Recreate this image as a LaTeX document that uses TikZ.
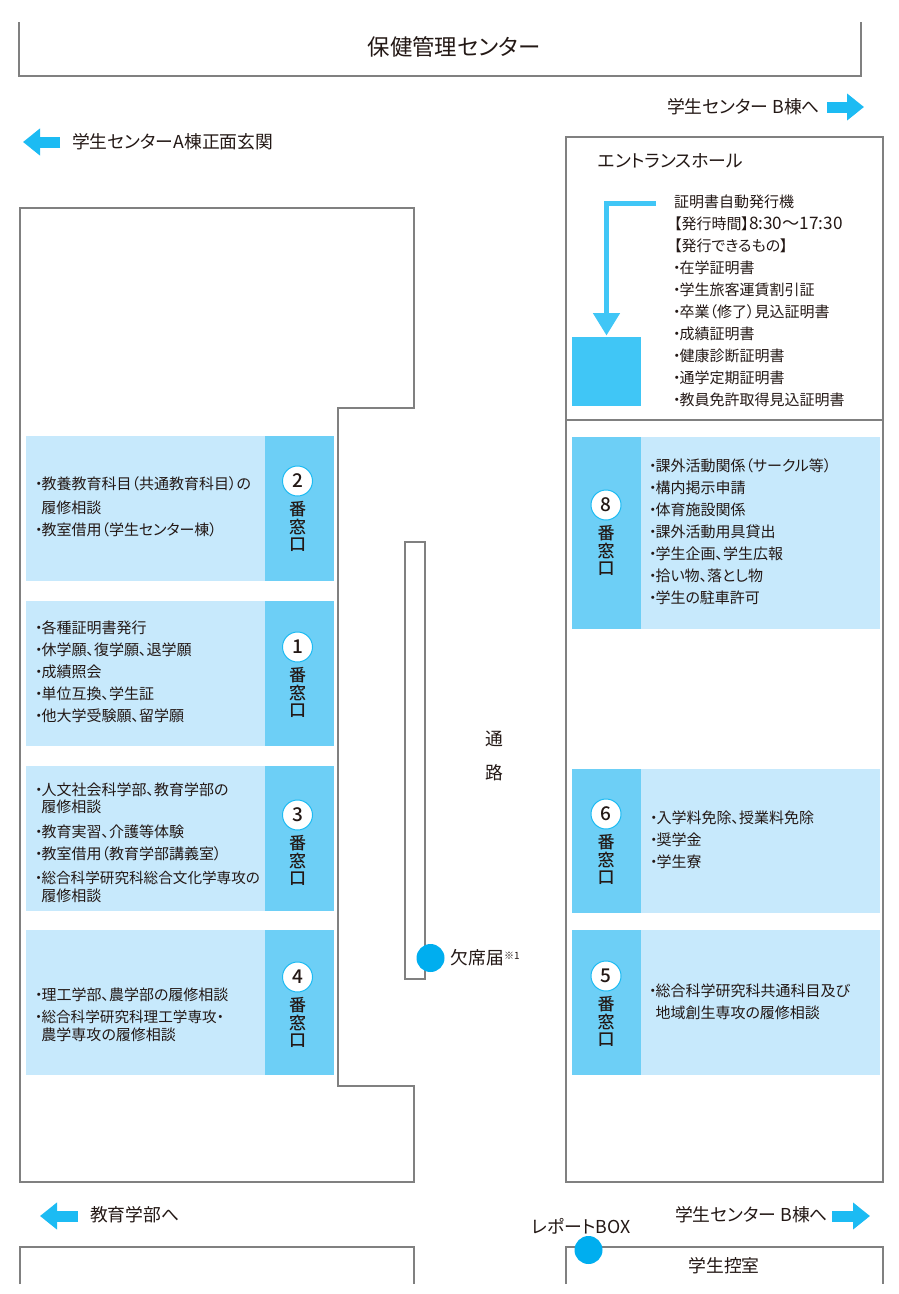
\documentclass[tikz,border=0pt]{standalone}
\usepackage{fontspec}
\setmainfont{Noto Sans CJK JP}[RawFeature={+palt}]
\newfontfamily\medfont{Noto Sans CJK JP Medium}
\usepackage{tikz}
\usetikzlibrary{arrows.meta}
\usetikzlibrary{positioning}
\definecolor{wall}{HTML}{808080}
\definecolor{ink}{HTML}{231815}
\definecolor{palepanel}{HTML}{C7E9FC}
\definecolor{midpanel}{HTML}{6DCFF6}
\definecolor{machineblue}{HTML}{40C6F6}
\definecolor{passblue}{HTML}{1CBBF3}
\definecolor{dotblue}{HTML}{00AEEF}
\newcommand{\bul}{\makebox[5.5pt][c]{・}}
\newcommand{\ind}{\hspace*{5.5pt}}
\newcommand{\tight}{\fontsize{14.6}{22}\selectfont}
\tikzset{
	txt/.style={text=ink,inner sep=0pt,outer sep=0pt,font=\fontsize{15}{22}\selectfont},
	list/.style={txt,anchor=west,align=left},
	big/.style={txt,font=\fontsize{17.8}{22}\selectfont},
	wallline/.style={draw=wall,line width=2pt,line join=miter},
	palebox/.style={fill=palepanel,inner sep=0pt,outer sep=0pt,anchor=north west,minimum height=#1},
	midbox/.style={fill=midpanel,inner sep=0pt,outer sep=0pt,anchor=north west,minimum width=69pt,minimum height=#1},
	badge/.style={circle,draw=passblue,line width=1pt,fill=white,minimum size=30pt,inner sep=0pt,text=ink,font=\fontsize{19}{19}\medfont},
	winlabel/.style={txt,align=center,font=\fontsize{17}{17.5}\medfont},
	passarrow/.style={draw=passblue,line width=11pt,-{Triangle[length=17pt,width=26pt]}},
	dot/.style={circle,fill=dotblue,minimum size=28pt,inner sep=0pt}
}
\begin{document}
\begin{tikzpicture}[x=1pt,y=-1pt]
	\useasboundingbox (0,0) rectangle (899,1294);
	% walls
	\draw[wallline] (19,22) -- (19,76) -- (861,76) -- (861,22);
	\draw[wallline] (20,208) -- (414,208) -- (414,408) -- (338,408) -- (338,1086) -- (414,1086) -- (414,1182) -- (20,1182) -- cycle;
	\draw[wallline] (566,137) rectangle (883,1182);
	\draw[wallline] (566,420) -- (883,420);
	\draw[wallline] (405,542) rectangle (425,979);
	\draw[wallline] (20,1284) -- (20,1247) -- (414,1247) -- (414,1284);
	\draw[wallline] (566,1284) -- (566,1247) -- (883,1247) -- (883,1284);
	% left windows
	\foreach \n/\top/\by in {2/436/481,1/601/647,3/766/815,4/930/977} {
		\node[palebox=145pt,minimum width=239pt] (p\n) at (26,\top) {};
		\node[midbox=145pt] (m\n) at (265,\top) {};
		\node[badge] (w\n) at (297.5,\by) {\n};
		\node[winlabel,below=5pt of w\n] (t\n) {番\\窓\\口};
	}
	% right windows
	\foreach \n/\top/\h/\by in {8/437/192/505,6/769/144/814,5/930/145/976} {
		\node[midbox=\h pt] (m\n) at (572,\top) {};
		\node[palebox=\h pt,minimum width=239pt] (p\n) at (641,\top) {};
		\node[badge] (w\n) at (606,\by) {\n};
		\node[winlabel,below=5pt of w\n] (t\n) {番\\窓\\口};
	}
	% window texts
	\node[list] (s2) at (36,507) {\bul 教養教育科目（共通教育科目）の\\[2pt]\ind 履修相談\\\bul 教室借用（学生センター棟）};
	\node[list] (s1) at (36,672) {\bul 各種証明書発行\\\bul 休学願、復学願、退学願\\\bul 成績照会\\\bul 単位互換、学生証\\\bul 他大学受験願、留学願};
	\node[list] (s3) at (36,843) {\bul 人文社会科学部、教育学部の\\[-5pt]\ind 履修相談\\[3pt]\bul 教育実習、介護等体験\\\bul 教室借用（教育学部講義室）\\[2pt]{\tight\bul 総合科学研究科総合文化学専攻の}\\[-4pt]\ind 履修相談};
	\node[list] (s4) at (36,1015) {\bul 理工学部、農学部の履修相談\\{\tight\bul 総合科学研究科理工学専攻・}\\[-4pt]\ind 農学専攻の履修相談};
	\node[list] (s8) at (650,532) {\bul 課外活動関係（サークル等）\\\bul 構内掲示申請\\\bul 体育施設関係\\\bul 課外活動用具貸出\\\bul 学生企画、学生広報\\\bul 拾い物、落とし物\\\bul 学生の駐車許可};
	\node[list] (s6) at (651,840) {\bul 入学料免除、授業料免除\\\bul 奨学金\\\bul 学生寮};
	\node[list] (s5) at (650,1002) {\bul 総合科学研究科共通科目及び\\\ind 地域創生専攻の履修相談};
	% entrance hall
	\node[txt,font=\fontsize{22.4}{22}\selectfont] (health) at (454,47) {保健管理センター};
	\node[big,anchor=west] (hall) at (598,161) {エントランスホール};
	\node[list] (info) at (674,301) {証明書自動発行機\\【発行時間】{\fontsize{17.2}{22}\selectfont 8:30〜17:30}\\【発行できるもの】\\\bul 在学証明書\\\bul 学生旅客運賃割引証\\\bul 卒業（修了）見込証明書\\\bul 成績証明書\\\bul 健康診断証明書\\\bul 通学定期証明書\\\bul 教員免許取得見込証明書};
	\node[fill=machineblue,minimum size=69pt,inner sep=0pt,outer sep=0pt] (machine) at (606.5,371.5) {};
	\coordinate (mfrom) at (656,203);
	\draw[draw=machineblue,line width=5pt,-{Triangle[length=22.5pt,width=26pt]},shorten >=1.5pt] (mfrom) -| (machine.north);
	% directions
	\node[big,anchor=east] (bnorth) at (820,107) {学生センター B棟へ};
	\coordinate (bn0) at (827,107);
	\coordinate (bn1) at (864,107);
	\draw[passarrow] (bn0) -- (bn1);
	\node[big,anchor=west] (afront) at (72,142) {学生センターA棟正面玄関};
	\coordinate (af0) at (60,142);
	\coordinate (af1) at (23,142);
	\draw[passarrow] (af0) -- (af1);
	\node[big,anchor=west] (edu) at (90,1215) {教育学部へ};
	\coordinate (ed0) at (78,1216);
	\coordinate (ed1) at (40,1216);
	\draw[passarrow] (ed0) -- (ed1);
	\node[big,anchor=east] (bsouth) at (828,1215) {学生センター B棟へ};
	\coordinate (bs0) at (832,1216);
	\coordinate (bs1) at (870,1216);
	\draw[passarrow] (bs0) -- (bs1);
	% corridor
	\node[big] (tsu) at (494,739) {通};
	\node[big] (ro) at (494,773) {路};
	\node[dot] (absent) at (430.5,958) {};
	\node[big,right=6pt of absent] (absenttxt) {欠席届\raisebox{5pt}{\fontsize{10}{10}\selectfont ※1}};
	\node[big,anchor=center] (reporttxt) at (581,1226) {レポートBOX};
	\node[dot] (report) at (588.5,1250) {};
	\node[big] (lounge) at (724,1266) {学生控室};
\end{tikzpicture}
\end{document}
